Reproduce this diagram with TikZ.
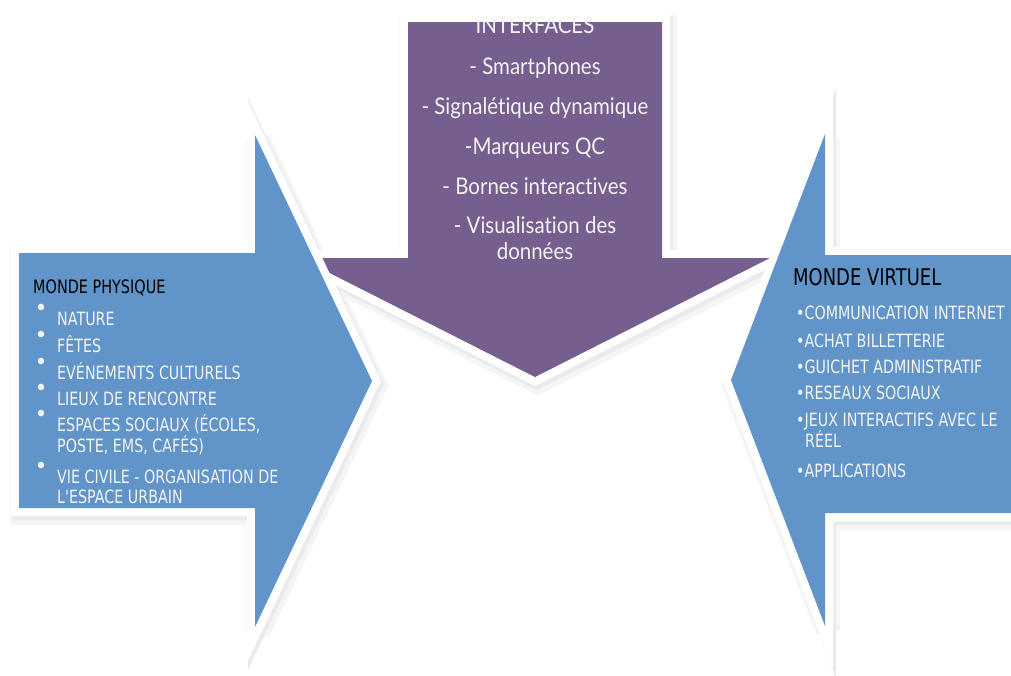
\documentclass[tikz,border=0pt]{standalone}
\usepackage{fontspec}
\setmainfont{DejaVu Sans}
\newfontfamily\listfont[FakeStretch=0.78]{DejaVu Sans}
\newfontfamily\ifacefont[FakeStretch=0.89,RawFeature={-liga;-dlig}]{Lato}
\definecolor{physblue}{RGB}{97,149,201}
\definecolor{ifacepurple}{RGB}{118,94,142}
\definecolor{paletext}{RGB}{244,244,244}
\newcommand{\physarrow}{(19,253) -- (255,253) -- (255,135) -- (372,381) -- (255,627) -- (255,508) -- (19,508) -- cycle}
\newcommand{\ifacearrow}{(408,22) -- (662,22) -- (662,258) -- (770,258) -- (535,377) -- (300,258) -- (408,258) -- cycle}
\newcommand{\virtarrow}{(1040,255) -- (825,255) -- (825,134) -- (731,380) -- (825,626) -- (825,513) -- (1040,513) -- cycle}
\tikzset{
  softshadow/.style={draw=black!4,fill=black!4,line width=24pt,miter limit=3},
  edgeshadow/.style={draw=black!8,fill=black!8,line width=18pt,miter limit=6},
  whiteedge/.style={draw=white,fill=white,line width=16pt},
  heading/.style={anchor=base west,inner sep=0pt,text=black,font=\listfont\fontsize{18.5}{20}\selectfont},
  item/.style={anchor=base west,inner sep=0pt,text=paletext,font=\listfont\fontsize{18.3}{20}\selectfont},
  iface/.style={anchor=base,inner sep=0pt,text=paletext,font=\ifacefont\fontsize{23}{26}\selectfont}
}

\begin{document}
\begin{tikzpicture}[x=1pt,y=-1pt,line join=miter]
\useasboundingbox (0,0) rectangle (1011,675);
% soft shadows first
\path[softshadow,shift={(3,5)}] \ifacearrow;
\path[softshadow,shift={(3,5)}] \physarrow;
\path[softshadow,shift={(3,5)}] \virtarrow;
\path[edgeshadow,shift={(2,3)}] \ifacearrow;
\path[edgeshadow,shift={(2,3)}] \physarrow;
\path[edgeshadow,shift={(2,3)}] \virtarrow;
% interfaces (behind)
\path[whiteedge] \ifacearrow;
\fill[ifacepurple] \ifacearrow;
% the two worlds
\path[whiteedge] \physarrow;
\fill[physblue] \physarrow;
\path[whiteedge] \virtarrow;
\fill[physblue] \virtarrow;

\node[iface] (iface0) at (535,33) {INTERFACES};
\node[iface] (iface1) at (535,74) {- Smartphones};
\node[iface] (iface2) at (535,114) {- Signalétique dynamique};
\node[iface] (iface3) at (535,154) {-Marqueurs QC};
\node[iface] (iface4) at (535,194) {- Bornes interactives};
\node[iface] (iface5) at (535,233) {- Visualisation des};
\node[iface] (iface6) at (535,259) {données};

\node[heading] (phys) at (33,293.5) {MONDE PHYSIQUE};
\foreach \y in {307,334,361,387,413,465}
  \fill[paletext] (41,\y) circle (3.3);
\node[item] (phys1) at (57,325.5) {NATURE};
\node[item] (phys2) at (57,352.5) {FÊTES};
\node[item] (phys3) at (57,379.5) {EVÉNEMENTS CULTURELS};
\node[item] (phys4) at (57,405.5) {LIEUX DE RENCONTRE};
\node[item] (phys5) at (57,431.5) {ESPACES SOCIAUX (ÉCOLES,};
\node[item] (phys5b) at (57,452.5) {POSTE, EMS, CAFÉS)};
\node[item] (phys6) at (57,483.5) {VIE CIVILE - ORGANISATION DE};
\node[item] (phys6b) at (57,503.5) {L'ESPACE URBAIN};

\node[heading,font=\listfont\fontsize{23}{26}\selectfont] (virt) at (793,285.5) {MONDE VIRTUEL};
\node[item] (virt1) at (796,319.5) {•COMMUNICATION INTERNET};
\node[item] (virt2) at (796,347.5) {•ACHAT BILLETTERIE};
\node[item] (virt3) at (796,373.5) {•GUICHET ADMINISTRATIF};
\node[item] (virt4) at (796,399.5) {•RESEAUX SOCIAUX};
\node[item] (virt5) at (796,426.5) {•JEUX INTERACTIFS AVEC LE};
\node[item] (virt5b) at (805,447.5) {RÉEL};
\node[item] (virt6) at (796,477.5) {•APPLICATIONS};
\end{tikzpicture}
\end{document}
